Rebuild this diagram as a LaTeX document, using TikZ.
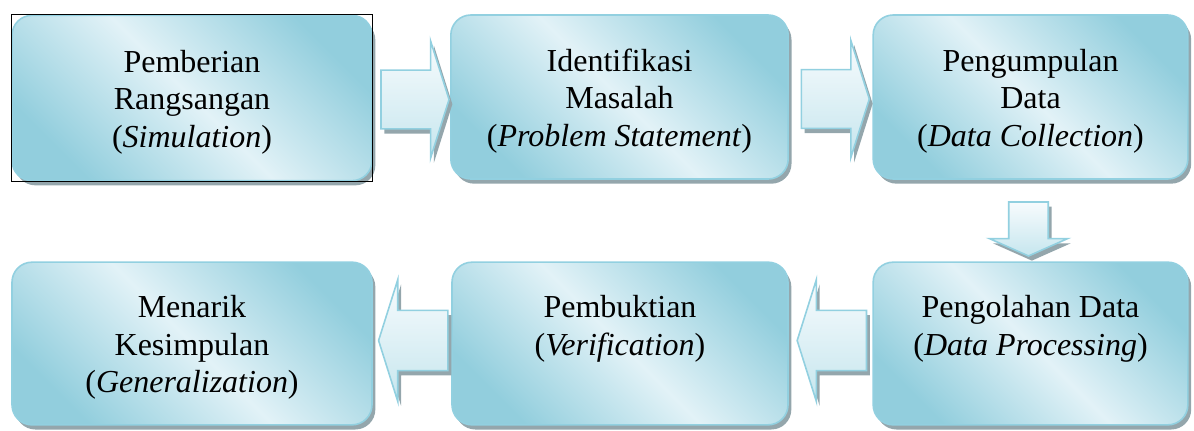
\documentclass[tikz,border=0pt]{standalone}
\usepackage{fontspec}
\setmainfont{Liberation Serif}
\usetikzlibrary{shapes.arrows,shadows,positioning,calc}

\definecolor{boxdark}{RGB}{146,206,221}
\definecolor{boxlight}{RGB}{226,242,247}
\definecolor{boxline}{RGB}{146,208,224}
\definecolor{arrowtop}{RGB}{247,251,253}
\definecolor{arrowbot}{RGB}{198,230,238}
\definecolor{shadowgray}{RGB}{148,166,172}
\newcommand{\upstrut}{\rule{0pt}{26pt}}

\begin{document}
\begin{tikzpicture}[x=0.75pt, y=0.75pt,
    stepbox/.style={rectangle, rounded corners=15pt, draw=boxline, line width=1.2pt,
        left color=boxdark, right color=boxdark, middle color=boxlight, shading angle=135,
        drop shadow={shadow xshift=2.5pt, shadow yshift=-3.5pt, fill=shadowgray, opacity=1},
        align=center, inner sep=0pt, font=\fontsize{24}{28.2}\selectfont},
    flowarrow/.style={single arrow, draw=boxline, line width=1.2pt,
        top color=arrowtop, bottom color=arrowbot,
        drop shadow={shadow xshift=2.5pt, shadow yshift=-3.5pt, fill=shadowgray, opacity=1}},
    rightarrow/.style={flowarrow, inner xsep=0pt, inner ysep=21.4pt, minimum height=51pt,
        single arrow head extend=22pt, single arrow tip angle=145},
    leftarrow/.style={flowarrow, shape border rotate=180, inner xsep=0pt, inner ysep=22pt,
        minimum height=52pt, single arrow head extend=23pt, single arrow tip angle=145}]
    \useasboundingbox (0,0) rectangle (1194,-430);

    % Top row
    \node[stepbox, minimum width=270pt, minimum height=124pt] (stimulus) at (192,-98) {
        \upstrut Pemberian\\
        Rangsangan\\
        (\textit{Simulation})\strut
    };
    \draw[black, line width=0.8pt] (stimulus.north west) rectangle (stimulus.south east);

    \node[stepbox, minimum width=253pt, minimum height=123pt] (problem) at (619.5,-97) {
        \upstrut Identifikasi\\
        Masalah\\
        (\textit{Problem Statement})\strut
    };

    \node[stepbox, minimum width=236pt, minimum height=123pt] (collect) at (1030.5,-97) {
        \upstrut Pengumpulan\\
        Data\\
        (\textit{Data Collection})\strut
    };

    % Bottom row
    \node[stepbox, minimum width=270pt, minimum height=122pt] (conclude) at (192,-343.5) {
        \upstrut Menarik\\
        Kesimpulan\\
        (\textit{Generalization})\strut
    };

    \node[stepbox, minimum width=252pt, minimum height=122pt] (verify) at (620,-343.5) {
        \upstrut Pembuktian\\
        (\textit{Verification})\\
        \strut
    };

    \node[stepbox, minimum width=236pt, minimum height=122pt] (process) at (1030.5,-343.5) {
        \upstrut Pengolahan Data\\
        (\textit{Data Processing})\\
        \strut
    };

    % Block arrows between the steps
    \node[rightarrow] (a1) at ($(stimulus.east)!0.5!(problem.west)+(-1,-2)$) {};
    \node[rightarrow] (a2) at ($(problem.east)!0.5!(collect.west)+(0,-2)$) {};
    \node[flowarrow, shape border rotate=270, inner xsep=14.2pt, inner ysep=14.2pt,
        minimum height=40.5pt, single arrow head extend=14.5pt, single arrow tip angle=132]
        (a3) at ($(collect.south)!0.5!(process.north)+(-2,-4)$) {};
    \node[leftarrow] (a4) at ($(verify.east)!0.5!(process.west)+(6,3)$) {};
    \node[leftarrow] (a5) at ($(conclude.east)!0.5!(verify.west)+(6,3)$) {};
\end{tikzpicture}
\end{document}
